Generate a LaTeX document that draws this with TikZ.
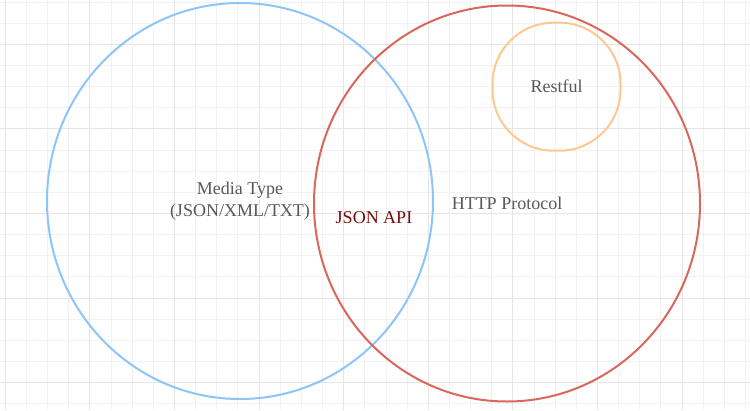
\documentclass[tikz,border=0pt]{standalone}
\usepackage{fontspec}
\setmainfont{Liberation Serif}
\usepackage{xcolor}
\usepackage{tikz}
\usetikzlibrary{positioning,shapes}

\definecolor{gridminor}{HTML}{F2F2F2}
\definecolor{gridmajor}{HTML}{E6E6E6}
\definecolor{mediablue}{HTML}{8EC5F8}
\definecolor{httpred}{HTML}{D9675D}
\definecolor{restorange}{HTML}{FFC891}
\definecolor{labelgray}{HTML}{595959}
\definecolor{apired}{HTML}{7A0A0A}

\begin{document}
\begin{tikzpicture}[x=1pt, y=-1pt]
    \tikzstyle{minorline} = [gridminor, line width=1pt]
    \tikzstyle{majorline} = [gridmajor, line width=1pt]
    \tikzstyle{set} = [ellipse, draw, line width=2pt, text=labelgray, align=center, font=\fontsize{18}{22.4}\selectfont]
    \tikzstyle{subset} = [rectangle, draw, line width=2pt, rounded corners=61pt, minimum size=128pt, text=labelgray, font=\fontsize{18}{22.4}\selectfont]
    \tikzstyle{overlap} = [text=apired, font=\fontsize{18}{22.4}\selectfont]

    \useasboundingbox (0,0) rectangle (750,410);
    \fill[white] (0,0) rectangle (750,410);
    % background grid
    \foreach \i in {0,...,35} \draw[minorline] ({5.3+21.15*\i},0) -- ++(0,410);
    \foreach \i in {0,...,19} \draw[minorline] (0,{2+21.15*\i}) -- ++(750,0);
    \foreach \i in {0,...,8} \draw[majorline] ({5.3+84.6*\i},0) -- ++(0,410);
    \foreach \i in {0,...,4} \draw[majorline] (0,{44.3+84.6*\i}) -- ++(750,0);

    \node [set, draw=mediablue, minimum width=386pt, minimum height=396pt] (media) at (240,201) {Media Type\\(JSON/XML/TXT)};
    \node [set, draw=httpred, minimum width=386pt, minimum height=396pt] (http) at (507,203.5) {HTTP Protocol};
    \node [subset, draw=restorange] (restful) at (556.5,86.7) {Restful};
    \node [overlap] (api) at (374,217.3) {JSON API};

\end{tikzpicture}
\end{document}
